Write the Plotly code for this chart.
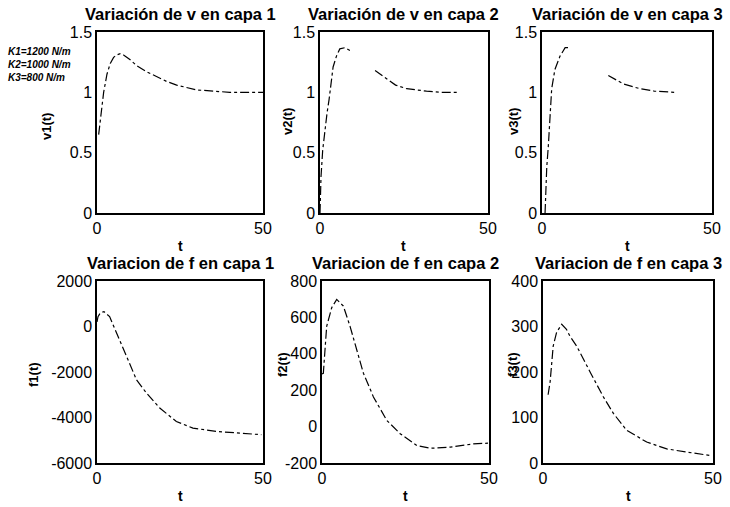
import plotly.graph_objects as go

# ---- data ----
t_v1 = [0.5, 1.0, 2.0, 3.0, 4.0, 5.0, 6.0, 7.0, 8.0, 10.0, 12.0, 15.0, 18.0, 21.0, 24.0, 27.0, 30.0, 35.0, 40.0, 45.0, 50.0]
v1 = [0.65, 0.78, 1.00, 1.15, 1.24, 1.29, 1.31, 1.32, 1.31, 1.27, 1.22, 1.17, 1.13, 1.09, 1.06, 1.04, 1.02, 1.01, 1.00, 1.00, 1.00]

t_v2 = [0.0, 0.3, 0.8, 1.4, 2.1, 2.7, 3.9, 4.9, 5.9, 7.4, 9.4, 12.5, 16.4, 19.8, 22.5, 25.8, 28.5, 31.7, 36.0, 41.0]
v2 = [0.0, 0.30, 0.52, 0.68, 0.83, 0.94, 1.21, 1.30, 1.36, 1.37, 1.34, None, 1.18, 1.11, 1.06, 1.03, 1.02, 1.01, 1.00, 1.00]

t_v3 = [0.9, 1.4, 1.85, 2.35, 2.85, 3.8, 5.3, 6.8, 8.2, 14.0, 19.5, 23.9, 28.8, 33.0, 38.9]
v3 = [0.0, 0.38, 0.55, 0.80, 1.03, 1.19, 1.30, 1.37, 1.37, None, 1.14, 1.07, 1.03, 1.01, 1.00]

t_f1 = [0.0, 0.3, 1.0, 2.1, 3.8, 6.3, 8.8, 11.9, 14.9, 18.9, 23.9, 28.9, 36.0, 43.0, 49.5]
f1 = [200, 434, 600, 653, 434, -444, -1322, -2344, -2928, -3586, -4174, -4466, -4612, -4680, -4757]

t_f2 = [0.0, 0.4, 1.4, 2.9, 4.4, 6.4, 8.4, 10.4, 12.4, 15.4, 19.4, 23.4, 28.4, 32.4, 38.4, 45.3, 49.7]
f2 = [290, 293, 551, 653, 699, 662, 551, 422, 293, 163, 34, -39, -104, -119, -113, -95, -91]

t_f3 = [1.5, 2.1, 3.0, 4.0, 5.5, 6.9, 7.9, 9.9, 14.0, 17.7, 20.7, 24.6, 30.5, 36.4, 42.3, 49.6]
f3 = [150, 179, 257, 287, 305, 294, 279, 257, 198, 146, 109, 72, 46, 31, 24, 16]

titles = ["Variación de v en capa 1", "Variación de v en capa 2", "Variación de v en capa 3",
          "Variacion de f en capa 1", "Variacion de f en capa 2", "Variacion de f en capa 3"]
ytitles = ["v1(t)", "v2(t)", "v3(t)", "f1(t)", "f2(t)", "f3(t)"]
xtitle = "t"
x_ticks = [0, 50]
y_ticks = [[0, 0.5, 1, 1.5], [0, 0.5, 1, 1.5], [0, 0.5, 1, 1.5],
           [-6000, -4000, -2000, 0, 2000], [-200, 0, 200, 400, 600, 800], [0, 100, 200, 300, 400]]
y_tick_text = [["0", "0.5", "1", "1.5"], ["0", "0.5", "1", "1.5"], ["0", "0.5", "1", "1.5"],
               ["-6000", "-4000", "-2000", "0", "2000"], ["-200", "0", "200", "400", "600", "800"],
               ["0", "100", "200", "300", "400"]]
y_ranges = [[0, 1.5], [0, 1.5], [0, 1.5], [-6000, 2000], [-200, 800], [0, 400]]
notes = ["K1=1200 N/m", "K2=1000 N/m", "K3=800 N/m"]

series = [(t_v1, v1), (t_v2, v2), (t_v3, v3), (t_f1, f1), (t_f2, f2), (t_f3, f3)]

W, H = 730, 507
# axes boxes in pixels (left, right, top, bottom)
boxes = [(97, 263, 32, 213), (320, 488, 32, 213), (542, 712, 32, 213),
         (97, 263, 281, 463), (322, 489, 281, 463), (543, 713, 281, 463)]
ytitle_x = [47, 287, 513, 33, 282, 512]
ytitle_y = [127, 122, 122, 375, 365, 365]

FONT = "Liberation Sans, Arial, Helvetica, sans-serif"

fig = go.Figure()
layout = dict(
    width=W, height=H,
    margin=dict(l=0, r=0, t=0, b=0, autoexpand=False),
    paper_bgcolor="white", plot_bgcolor="white",
    showlegend=False,
    font=dict(family=FONT, color="black"),
)
annotations = []

for i, ((tx, ty), (l, r, t, b)) in enumerate(zip(series, boxes)):
    k = "" if i == 0 else str(i + 1)
    fig.add_trace(go.Scatter(x=tx, y=ty, mode="lines", xaxis="x" + k, yaxis="y" + k,
                             line=dict(color="black", width=1.2, dash="dashdot"),
                             connectgaps=False))
    layout["xaxis" + k] = dict(
        domain=[l / W, r / W], anchor="y" + k, range=[0, 50],
        tickvals=x_ticks, ticktext=[str(v) for v in x_ticks],
        showline=True, linecolor="black", linewidth=1.5, mirror=True,
        showgrid=False, zeroline=False, ticks="", automargin=False,
        tickfont=dict(size=16, family=FONT, color="black"),
    )
    layout["yaxis" + k] = dict(
        domain=[1 - b / H, 1 - t / H], anchor="x" + k, range=y_ranges[i],
        tickvals=y_ticks[i], ticktext=y_tick_text[i],
        showline=True, linecolor="black", linewidth=1.5, mirror=True,
        showgrid=False, zeroline=False, ticks="", automargin=False,
        tickfont=dict(size=16, family=FONT, color="black"),
    )
    # subplot title
    annotations.append(dict(text="<b>" + titles[i] + "</b>", xref="paper", yref="paper",
                            x=(l + r) / 2 / W, y=1 - (t - 18) / H, xanchor="center", yanchor="middle",
                            showarrow=False, borderpad=0,
                            font=dict(size=16.5, family=FONT, color="black")))
    # x title
    annotations.append(dict(text="<b>" + xtitle + "</b>", xref="paper", yref="paper",
                            x=(l + r) / 2 / W, y=1 - (b + 33) / H, xanchor="center", yanchor="middle",
                            showarrow=False, borderpad=0,
                            font=dict(size=14, family=FONT, color="black")))
    # y title
    annotations.append(dict(text="<b>" + ytitles[i] + "</b>", xref="paper", yref="paper",
                            x=ytitle_x[i] / W, y=1 - ytitle_y[i] / H, xanchor="center", yanchor="middle",
                            textangle=-90, showarrow=False,
                            font=dict(size=13, family=FONT, color="black")))

for j, n in enumerate(notes):
    annotations.append(dict(text="<b><i>" + n + "</i></b>", xref="paper", yref="paper",
                            x=6 / W, y=1 - (52 + 12.5 * j) / H, xanchor="left", yanchor="middle",
                            showarrow=False, font=dict(size=10, family=FONT, color="black")))

layout["annotations"] = annotations
fig.update_layout(**layout)
fig.write_html("out.html", config={"displayModeBar": False},
               post_script="document.body.style.margin='0';document.body.style.overflow='hidden';")
